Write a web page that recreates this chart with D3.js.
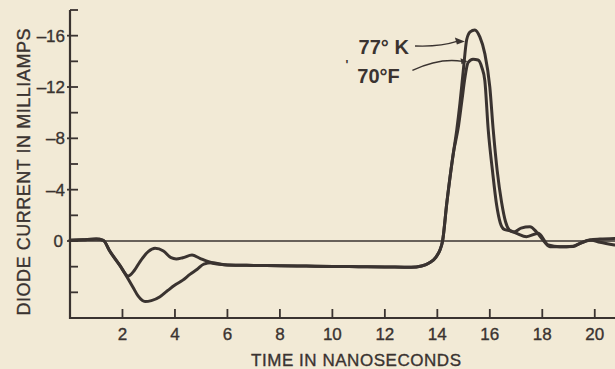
<!DOCTYPE html>
<html>
<head>
<meta charset="utf-8">
<script src="https://cdn.jsdelivr.net/npm/d3@7"></script>
<style>
  html, body { margin: 0; padding: 0; background: #f2ead6; }
  svg { display: block; }
  text { font-family: "Liberation Sans", Arial, sans-serif; fill: #3a3330; }
</style>
</head>
<body>
<svg id="chart" width="615" height="369"></svg>
<script>
// ---- data ----
const xTickValues = [2, 4, 6, 8, 10, 12, 14, 16, 18, 20];
const yLabeledTicks = [-16, -12, -8, -4, 0];
const yMinorTicks = [-18, -14, -10, -6, -2, 2, 4];
const xTitle = "TIME IN NANOSECONDS";
const yTitle = "DIODE CURRENT IN MILLIAMPS";
const seriesNames = ["77° K", "70°F"];

// 77 °K curve: time (ns) and diode current (mA, negative = up)
const time77 = [0, 0.5, 1.0, 1.27, 1.52, 1.9, 2.2, 2.4, 2.6, 2.86, 3.1, 3.43, 3.7, 4.0, 4.3, 4.57, 4.85, 5.1, 5.4, 6.0, 7, 8, 9, 10, 11, 12, 13.0, 13.4, 13.7, 13.95, 14.1, 14.2, 14.36, 14.61, 14.74, 14.86, 14.99, 15.12, 15.25, 15.43, 15.62, 15.81, 16.0, 16.13, 16.28, 16.45, 16.6, 16.75, 16.92, 17.19, 17.53, 17.78, 17.98, 18.29, 18.67, 19.18, 19.44, 19.82, 20.2, 20.75];
const curr77 = [-0.05, -0.1, -0.15, -0.05, 0.8, 1.9, 2.9, 3.6, 4.3, 4.72, 4.65, 4.34, 3.9, 3.43, 3.05, 2.6, 2.2, 1.8, 1.7, 1.87, 1.9, 1.92, 1.95, 1.98, 2.0, 2.02, 2.05, 1.95, 1.7, 1.25, 0.7, 0.0, -2.94, -6.84, -8.65, -10.7, -13.3, -15.7, -16.3, -16.45, -15.9, -14.6, -12.0, -8.65, -5.5, -3.0, -1.5, -0.85, -0.7, -1.0, -1.11, -0.7, -0.2, 0.44, 0.44, 0.42, 0.18, -0.08, -0.15, -0.2];

// 70 °F curve
const time70 = [0, 0.5, 1.0, 1.27, 1.52, 1.9, 2.22, 2.45, 2.67, 2.98, 3.24, 3.56, 3.85, 4.05, 4.3, 4.65, 4.95, 5.25, 5.6, 6.0, 7, 8, 9, 10, 11, 12, 13.0, 13.4, 13.7, 13.95, 14.1, 14.2, 14.36, 14.61, 14.81, 14.94, 15.05, 15.17, 15.36, 15.55, 15.7, 15.81, 15.94, 16.1, 16.26, 16.4, 16.55, 16.77, 17.02, 17.4, 17.85, 18.23, 18.67, 19.17, 19.44, 19.82, 20.2, 20.75];
const curr70 = [-0.05, -0.1, -0.15, -0.05, 0.8, 1.9, 2.73, 2.3, 1.6, 0.83, 0.57, 0.78, 1.3, 1.4, 1.3, 1.1, 1.35, 1.6, 1.8, 1.87, 1.9, 1.92, 1.95, 1.98, 2.0, 2.02, 2.05, 1.95, 1.7, 1.25, 0.7, 0.0, -2.94, -6.84, -9.0, -11.0, -12.7, -13.9, -14.16, -14.1, -13.5, -12.5, -8.65, -5.5, -2.8, -1.4, -0.9, -0.8, -0.6, -0.34, -0.6, 0.31, 0.44, 0.4, 0.18, -0.08, 0.1, 0.31];

// ---- drawing ----
const ink = "#3a3330";
const svg = d3.select("#chart");
const x = d3.scaleLinear().domain([0, 21]).range([70, 621]);
const y = d3.scaleLinear().domain([6, -18]).range([318, 10]);

// zero reference line
svg.append("line")
  .attr("x1", x(0)).attr("x2", 615)
  .attr("y1", y(0)).attr("y2", y(0))
  .attr("stroke", ink).attr("stroke-width", 1.6);

// axes lines
svg.append("line").attr("x1", x(0)).attr("x2", x(0))
  .attr("y1", y(-18)).attr("y2", y(6) + 1)
  .attr("stroke", ink).attr("stroke-width", 2.2);
svg.append("line").attr("x1", x(0) - 1).attr("x2", 615)
  .attr("y1", y(6)).attr("y2", y(6))
  .attr("stroke", ink).attr("stroke-width", 2.2);

// y ticks
svg.selectAll(".ymin").data(yMinorTicks).enter().append("line")
  .attr("x1", x(0)).attr("x2", x(0) + 8)
  .attr("y1", d => y(d)).attr("y2", d => y(d))
  .attr("stroke", ink).attr("stroke-width", 1.8);
svg.selectAll(".ymaj").data(yLabeledTicks).enter().append("line")
  .attr("x1", x(0) - 3).attr("x2", x(0) + 8)
  .attr("y1", d => y(d)).attr("y2", d => y(d))
  .attr("stroke", ink).attr("stroke-width", 1.8);
svg.selectAll(".ylab").data(yLabeledTicks).enter().append("text")
  .attr("x", d => d === 0 ? 63 : 65)
  .attr("y", d => y(d))
  .attr("dy", "0.36em")
  .attr("text-anchor", "end")
  .attr("font-size", 17)
  .attr("stroke", ink).attr("stroke-width", 0.35)
  .text(d => d === 0 ? "0" : "\u2013" + Math.abs(d));

// x ticks
svg.selectAll(".xt").data(xTickValues).enter().append("line")
  .attr("x1", d => x(d)).attr("x2", d => x(d))
  .attr("y1", y(6)).attr("y2", y(6) - 9)
  .attr("stroke", ink).attr("stroke-width", 1.8);
svg.selectAll(".xl").data(xTickValues).enter().append("text")
  .attr("x", d => x(d))
  .attr("y", 340)
  .attr("text-anchor", "middle")
  .attr("font-size", 17)
  .attr("stroke", ink).attr("stroke-width", 0.35)
  .text(d => d);

// axis titles
svg.append("text")
  .attr("x", 356).attr("y", 366)
  .attr("text-anchor", "middle")
  .attr("font-size", 17)
  .attr("stroke", ink).attr("stroke-width", 0.35)
  .attr("textLength", 210).attr("lengthAdjust", "spacing")
  .text(xTitle);
svg.append("text")
  .attr("transform", "translate(30,172) rotate(-90)")
  .attr("text-anchor", "middle")
  .attr("font-size", 18)
  .attr("stroke", ink).attr("stroke-width", 0.35)
  .attr("textLength", 287).attr("lengthAdjust", "spacing")
  .text(yTitle);

// curves
const line = d3.line()
  .x(d => x(d[0])).y(d => y(d[1]))
  .curve(d3.curveMonotoneX);
const s77 = time77.map((t, i) => [t, curr77[i]]);
const s70 = time70.map((t, i) => [t, curr70[i]]);
[s70, s77].forEach(s => {
  svg.append("path").datum(s)
    .attr("d", line)
    .attr("fill", "none")
    .attr("stroke", ink)
    .attr("stroke-width", 3)
    .attr("stroke-linejoin", "round")
    .attr("stroke-linecap", "round");
});

// annotations
svg.append("text")
  .attr("x", x(11.0)).attr("y", y(-14.55))
  .attr("font-size", 20).attr("font-weight", "bold")
  .text(seriesNames[0]);
svg.append("text")
  .attr("x", x(10.95)).attr("y", y(-12.35))
  .attr("font-size", 20).attr("font-weight", "bold")
  .text(seriesNames[1]);
svg.append("text")
  .attr("x", x(10.5)).attr("y", y(-13.4))
  .attr("font-size", 12).attr("font-weight", "bold")
  .text("'");

// arrow 77K
const ax0 = x(13.15), ay0 = y(-15.2), ax1 = x(15.05), ay1 = y(-15.55);
svg.append("path")
  .attr("d", `M${ax0},${ay0} Q${(ax0 + ax1) / 2},${ay0 + 1} ${ax1 - 8},${ay1}`)
  .attr("fill", "none").attr("stroke", ink).attr("stroke-width", 1.4);
svg.append("path")
  .attr("d", `M${ax1},${ay1} L${ax1 - 10},${ay1 - 4} L${ax1 - 8},${ay1 + 3} Z`)
  .attr("fill", ink);

// arrow 70F
const bx0 = x(13.05), by0 = y(-13.3), bx1 = x(15.15), by1 = y(-14.0);
svg.append("path")
  .attr("d", `M${bx0},${by0} Q${x(14.1)},${y(-14.3)} ${bx1 - 5},${by1}`)
  .attr("fill", "none").attr("stroke", ink).attr("stroke-width", 1.4);
svg.append("path")
  .attr("d", `M${bx1},${by1} L${bx1 - 7},${by1 - 3} L${bx1 - 6},${by1 + 3} Z`)
  .attr("fill", ink);
</script>
</body>
</html>
